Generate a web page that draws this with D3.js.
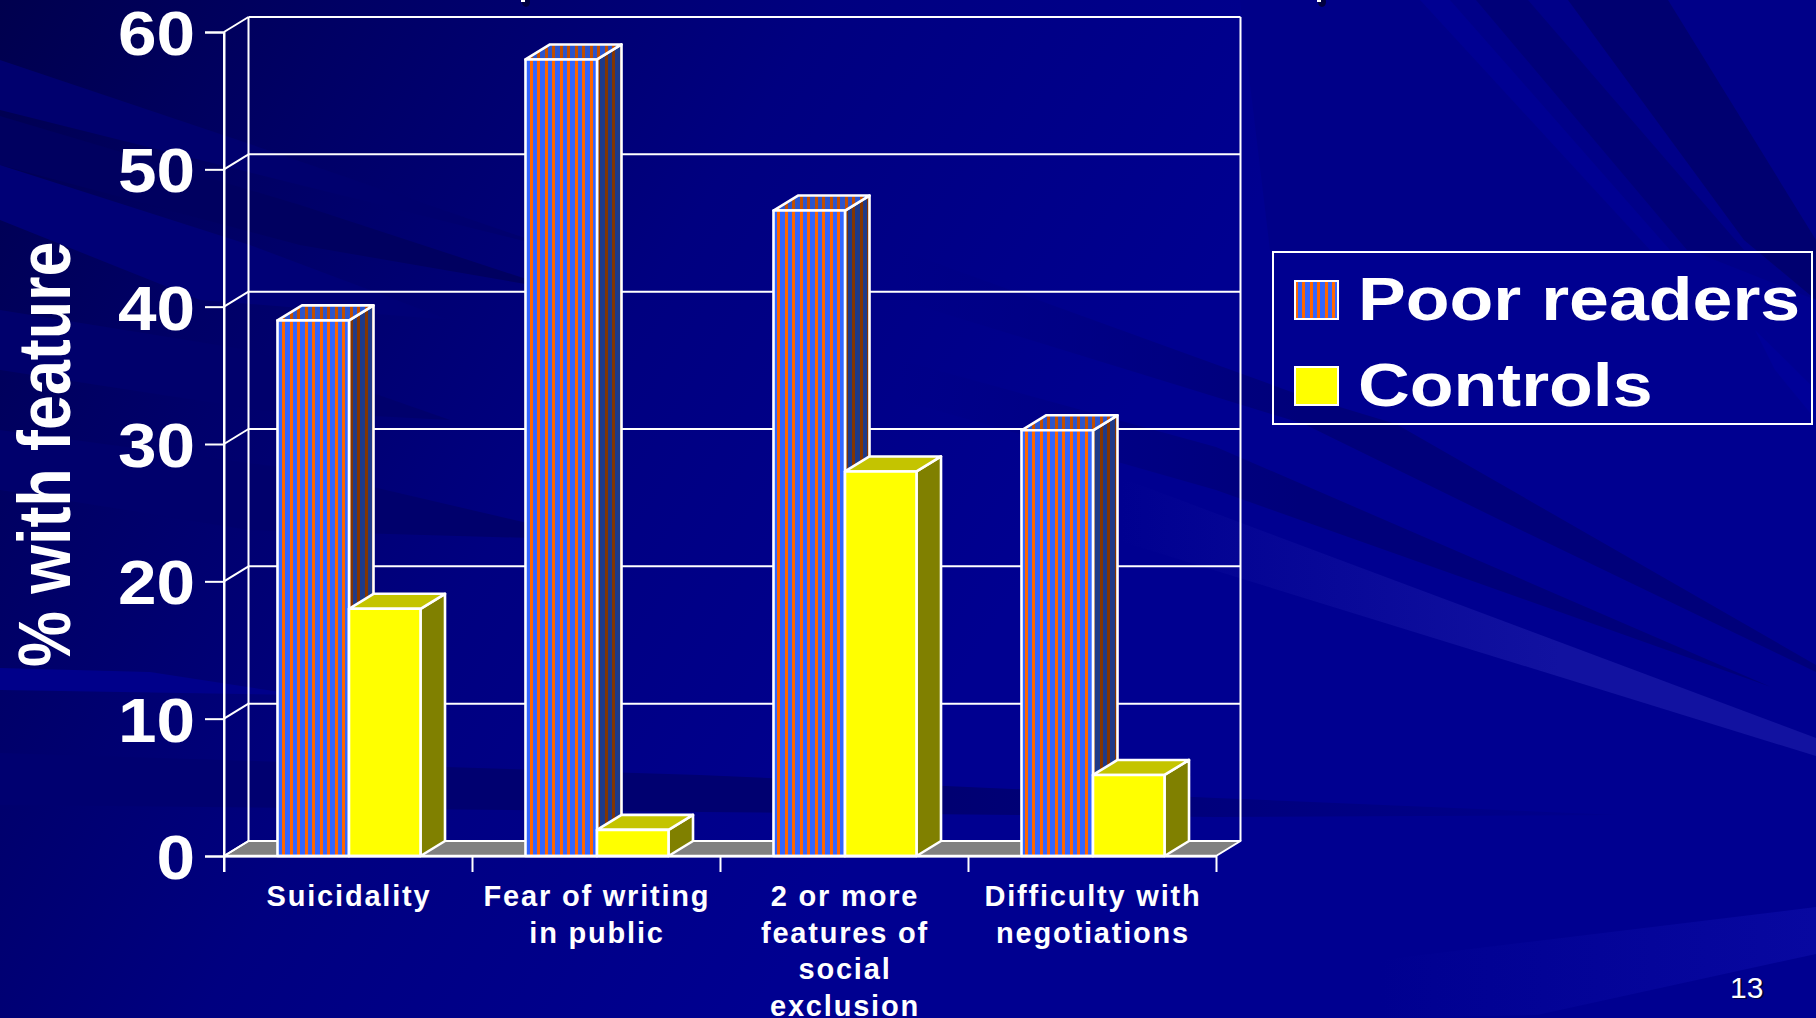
<!DOCTYPE html>
<html><head><meta charset="utf-8">
<script src="https://cdn.jsdelivr.net/npm/d3@7/dist/d3.min.js"></script>
<style>html,body{margin:0;padding:0;background:#000090;overflow:hidden}svg{display:block}text{font-family:"Liberation Sans",Arial,sans-serif;fill:#fff}</style>
</head><body><div id="c"></div>
<script>
const categories=[["Suicidality"],["Fear of writing","in public"],["2 or more","features of","social","exclusion"],["Difficulty with","negotiations"]];
const seriesNames=["Poor readers","Controls"];
const poorReaders=[39,58,47,31];
const controls=[18,1.9,28,5.9];
const yTicks=[0,10,20,30,40,50,60];

const W=1816,H=1018;
const svg=d3.select("#c").append("svg").attr("width",W).attr("height",H);
const defs=svg.append("defs");

function stripes(id,a,b){
  const p=defs.append("pattern").attr("id",id).attr("patternUnits","userSpaceOnUse").attr("width",15).attr("height",10);
  p.append("rect").attr("width",15).attr("height",10).attr("fill",a);
  p.append("rect").attr("x",5).attr("width",3).attr("height",10).attr("fill",b);
  p.append("rect").attr("x",12).attr("width",3).attr("height",10).attr("fill",b);
}
stripes("pFront","#3366ff","#ff6600");
stripes("pTop","#2b55cc","#c24e00");
stripes("pSide","#1f3a88","#843500");

const bgGrad=defs.append("linearGradient").attr("id","bg").attr("gradientUnits","userSpaceOnUse")
  .attr("x1",0).attr("y1",0).attr("x2",1000).attr("y2",620);
[[0,"#00004e"],[0.25,"#000064"],[0.6,"#000080"],[1,"#000090"]].forEach(s=>bgGrad.append("stop").attr("offset",s[0]).attr("stop-color",s[1]));
function fade(id,x1,x2,c){
  const g=defs.append("linearGradient").attr("id",id).attr("gradientUnits","userSpaceOnUse").attr("x1",x1).attr("y1",0).attr("x2",x2).attr("y2",0);
  g.append("stop").attr("offset",0).attr("stop-color",c).attr("stop-opacity",0);
  g.append("stop").attr("offset",1).attr("stop-color",c).attr("stop-opacity",1);
}
fade("fLight",1120,1560,"#1212a0");
fade("fGlow",1380,1816,"#0808a0");
fade("fDark",900,1300,"#00007a");
fade("fBand",1700,900,"#000070");

svg.append("rect").attr("width",W).attr("height",H).attr("fill","url(#bg)");
// background streaks
const streaks=[
 {f:"url(#fLight)",p:"1100,470 1816,738 1816,756 1100,535"},
 {f:"url(#fDark)",p:"900,250 1300,395 1396,424 1816,665 1816,672 1500,520 1304,424 900,300"},
 {f:"url(#fDark)",p:"900,360 1216,447 1771,687 1216,490 900,400"},
 {f:"url(#fBand)",p:"0,753 700,775 1216,798 1620,815 1216,817 700,812 0,805"},
 {f:"url(#fGlow)",p:"1537,941 1816,907 1816,954 1537,1015 1380,1018 1380,960"},
 {f:"#000088",p:"1240,0 1816,0 1816,300 1690,250 1270,250"},
 {f:"#000078",p:"1476,0 1528,0 1744,250 1687,250"},
 {f:"#000070",p:"1568,0 1668,0 1816,240 1816,300 1744,240"},
 {f:"#000092",p:"1420,0 1450,0 1670,250 1650,250"},
 {f:"#000098",p:"1755,330 1816,390 1816,420 1775,370"},
 {f:"#00006e",p:"0,60 247,143 560,250 0,110"},
 {f:"#000060",p:"0,116 300,205 560,290 300,245 0,165"},
 {f:"#000076",p:"0,165 250,245 450,320 200,300 0,220"},
 {f:"#00006c",p:"0,310 250,350 450,420 260,410 0,370"},
 {f:"#00006c",p:"0,430 300,470 600,540 250,530 0,490"},
 {f:"#00008a",p:"0,668 150,672 300,695 0,690"}
];
svg.append("g").selectAll("polygon").data(streaks).join("polygon").attr("points",d=>d.p).attr("fill",d=>d.f);

// title descenders cut by the slide's top edge
[[523,5],[1319,5]].forEach(([x,h])=>{
  svg.append("ellipse").attr("cx",x+3).attr("cy",2).attr("rx",4).attr("ry",h).attr("fill","#000040");
  svg.append("rect").attr("x",x-2).attr("y",0).attr("width",4).attr("height",2).attr("fill","#fff");
});

const x0=224,x1=1216,y0=856,y1=32,dx=24.5,dy=-15;
const y=d3.scaleLinear().domain([0,60]).range([y0,y1]);
const xBand=d3.scaleBand().domain(d3.range(categories.length)).range([x0,x1]);
const xSeries=d3.scaleBand().domain(seriesNames).range([1,xBand.bandwidth()+1]).paddingInner(0).paddingOuter(0.734);
const sw=2;
const chart=svg.append("g").attr("stroke-linejoin","round");

// floor
chart.append("polygon").attr("points",[[x0,y0],[x0+dx,y0+dy],[x1+dx,y0+dy],[x1,y0]].join(" "))
  .attr("fill","#808080").attr("stroke","#fff").attr("stroke-width",sw);
// back wall: gridlines, wall diagonals
chart.append("g").selectAll("line.g").data(yTicks).join("line")
  .attr("x1",x0+dx).attr("x2",x1+dx).attr("y1",d=>y(d)+dy).attr("y2",d=>y(d)+dy).attr("stroke","#fff").attr("stroke-width",sw);
chart.append("g").selectAll("line.d").data(yTicks).join("line")
  .attr("x1",x0).attr("x2",x0+dx).attr("y1",d=>y(d)).attr("y2",d=>y(d)+dy).attr("stroke","#fff").attr("stroke-width",sw);
chart.append("line").attr("x1",x0+dx).attr("x2",x0+dx).attr("y1",y1+dy).attr("y2",y0+dy).attr("stroke","#fff").attr("stroke-width",sw);
chart.append("line").attr("x1",x1+dx).attr("x2",x1+dx).attr("y1",y1+dy).attr("y2",y0+dy).attr("stroke","#fff").attr("stroke-width",sw);

// axes
const yAxis=d3.axisLeft(y).tickValues(yTicks).tickSize(19).tickFormat("");
const gy=chart.append("g").attr("transform",`translate(${x0},0)`).call(yAxis);
gy.selectAll("path,line").attr("stroke","#fff").attr("stroke-width",sw);
const xEdge=d3.scaleLinear().domain([0,categories.length]).range([x0,x1]);
const xAxis=d3.axisBottom(xEdge).tickValues(d3.range(categories.length+1)).tickSize(16).tickSizeOuter(0).tickFormat("");
const gx=chart.append("g").attr("transform",`translate(0,${y0})`).call(xAxis);
gx.selectAll("path,line").attr("stroke","#fff").attr("stroke-width",sw);
chart.append("line").attr("x1",x0).attr("x2",x0).attr("y1",y1).attr("y2",y0+16).attr("stroke","#fff").attr("stroke-width",sw);

// bars
function bar(g,i,name,v,front,top,side){
  const L=xBand(i)+xSeries(name),R=L+xSeries.bandwidth(),T=y(v),B=y(0);
  g.append("polygon").attr("points",[[R,T],[R+dx,T+dy],[R+dx,B+dy],[R,B]].join(" ")).attr("fill",side);
  g.append("polygon").attr("points",[[L,T],[L+dx,T+dy],[R+dx,T+dy],[R,T]].join(" ")).attr("fill",top);
  g.append("rect").attr("x",L).attr("y",T).attr("width",R-L).attr("height",B-T).attr("fill",front);
  g.selectAll("polygon,rect").attr("stroke","#fff").attr("stroke-width",2.6);
}
const barsG=chart.append("g");
categories.forEach((c,i)=>{
  const g=barsG.append("g");
  bar(g.append("g"),i,seriesNames[0],poorReaders[i],"url(#pFront)","url(#pTop)","url(#pSide)");
  bar(g.append("g"),i,seriesNames[1],controls[i],"#ffff00","#c4c400","#808000");
});
chart.append("line").attr("x1",x0).attr("x2",x1).attr("y1",y0).attr("y2",y0).attr("stroke","#fff").attr("stroke-width",2.4);

// y tick labels
svg.append("g").selectAll("text").data(yTicks).join("text")
  .attr("transform",d=>`translate(195,${y(d)+23}) scale(1.1,1)`)
  .attr("text-anchor","end").attr("font-weight","700").attr("font-size",63).text(d=>d);

// y title
svg.append("text").attr("transform","translate(70,667) rotate(-90) scale(0.848,1)")
  .attr("font-weight","700").attr("font-size",74).text("% with feature");

// category labels
categories.forEach((lines,i)=>{
  const cx=xBand(i)+xBand.bandwidth()/2+1;
  svg.append("g").selectAll("text").data(lines).join("text")
    .attr("x",cx).attr("y",(d,j)=>906+j*36.5).attr("text-anchor","middle")
    .attr("font-weight","700").attr("font-size",29).attr("letter-spacing",1.8).text(d=>d);
});

// legend
svg.append("rect").attr("x",1273).attr("y",252).attr("width",539).attr("height",172)
  .attr("fill","none").attr("stroke","#fff").attr("stroke-width",2);
const legendFill=["url(#pFront)","#ffff00"];
const lg=svg.append("g").selectAll("g").data(seriesNames).join("g").attr("transform",(d,i)=>`translate(0,${i*86})`);
lg.append("rect").attr("x",1295).attr("y",281).attr("width",43).attr("height",38).attr("fill",(d,i)=>legendFill[i]).attr("stroke","#fff").attr("stroke-width",2);
lg.append("text").attr("transform","translate(1358,320) scale(1.175,1)").attr("font-weight","700").attr("font-size",61).text(d=>d);

// slide number
const num=svg.append("g");
num.append("text").attr("x",1732).attr("y",999).attr("font-size",30).style("fill","#000040").text("13");
num.append("text").attr("x",1730).attr("y",998).attr("font-size",30).text("13");
</script></body></html>
